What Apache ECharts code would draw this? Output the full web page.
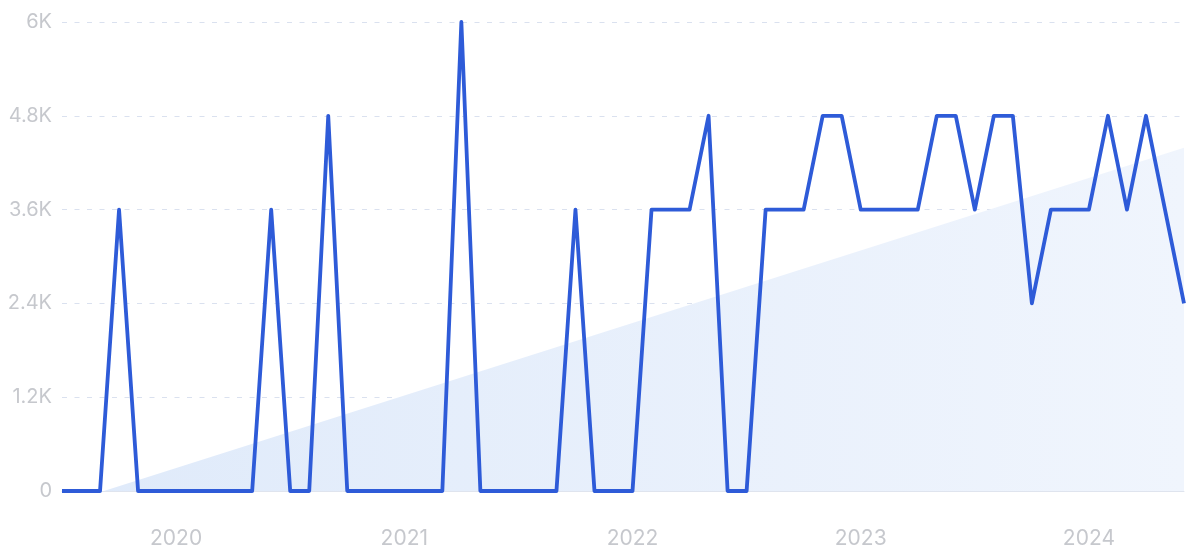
<!DOCTYPE html>
<html>
<head>
<meta charset="utf-8">
<script src="https://cdn.jsdelivr.net/npm/echarts@6/dist/echarts.min.js"></script>
<style>
html,body{margin:0;padding:0;background:#fff;}
#chart{width:1200px;height:557px;}
</style>
</head>
<body>
<div id="chart"></div>
<script>
// Months Jul 2019 .. Jun 2024
const months = [
  '2019-07','2019-08','2019-09','2019-10','2019-11','2019-12',
  '2020-01','2020-02','2020-03','2020-04','2020-05','2020-06','2020-07','2020-08','2020-09','2020-10','2020-11','2020-12',
  '2021-01','2021-02','2021-03','2021-04','2021-05','2021-06','2021-07','2021-08','2021-09','2021-10','2021-11','2021-12',
  '2022-01','2022-02','2022-03','2022-04','2022-05','2022-06','2022-07','2022-08','2022-09','2022-10','2022-11','2022-12',
  '2023-01','2023-02','2023-03','2023-04','2023-05','2023-06','2023-07','2023-08','2023-09','2023-10','2023-11','2023-12',
  '2024-01','2024-02','2024-03','2024-04','2024-05','2024-06'
];
const volume = [
  0,0,0,3600,0,0,
  0,0,0,0,0,3600,0,0,4800,0,0,0,
  0,0,0,6000,0,0,0,0,0,3600,0,0,
  0,3600,3600,3600,4800,0,0,3600,3600,3600,4800,4800,
  3600,3600,3600,3600,4800,4800,3600,4800,4800,2400,3600,3600,
  3600,4800,3600,4800,3600,2400
];
const yTicks = [0, 1200, 2400, 3600, 4800, 6000];
// trend line endpoints: [month index, value]
const trendStart = [0, -170];
const trendEnd = [59, 4390];

const chart = echarts.init(document.getElementById('chart'));
const labelColor = '#c6c8cd';
const font = 'Inter, "Noto Sans", sans-serif';

chart.setOption({
  animation: false,
  grid: { left: 62, right: 16, top: 22, bottom: 66 },
  xAxis: [{
    type: 'category',
    data: months,
    boundaryGap: false,
    axisLine: { show: true, lineStyle: { color: '#dfe4ee', width: 1 } },
    axisTick: { show: false },
    axisLabel: {
      interval: function (i, v) { return v.slice(5) === '01'; },
      formatter: function (v) { return v.slice(0, 4); },
      color: labelColor,
      fontSize: 21,
      fontFamily: font,
      margin: 37
    },
    splitLine: { show: false }
  }, {
    type: 'value',
    min: 0,
    max: months.length - 1,
    show: false
  }],
  yAxis: {
    type: 'value',
    min: yTicks[0],
    max: yTicks[yTicks.length - 1],
    interval: yTicks[1] - yTicks[0],
    axisLine: { show: false },
    axisTick: { show: false },
    axisLabel: {
      color: labelColor,
      fontSize: 20,
      fontFamily: font,
      margin: 10,
      formatter: function (v) { return v === 0 ? '0' : (v / 1000) + 'K'; }
    },
    splitLine: { show: true, lineStyle: { color: '#dae1ef', type: [5, 7.5], width: 1 } }
  },
  series: [{
    type: 'line',
    xAxisIndex: 1,
    data: [trendStart, trendEnd],
    symbol: 'none',
    lineStyle: { width: 0 },
    areaStyle: {
      opacity: 1,
      color: new echarts.graphic.LinearGradient(0, 0, 1, 0, [
        { offset: 0, color: '#dfeafa' },
        { offset: 1, color: '#f0f5fd' }
      ])
    },
    z: 1,
    silent: true
  }, {
    type: 'line',
    data: volume,
    symbol: 'none',
    lineStyle: { color: '#2e5bd8', width: 3.8, join: 'round' },
    z: 3
  }]
});
</script>
</body>
</html>
